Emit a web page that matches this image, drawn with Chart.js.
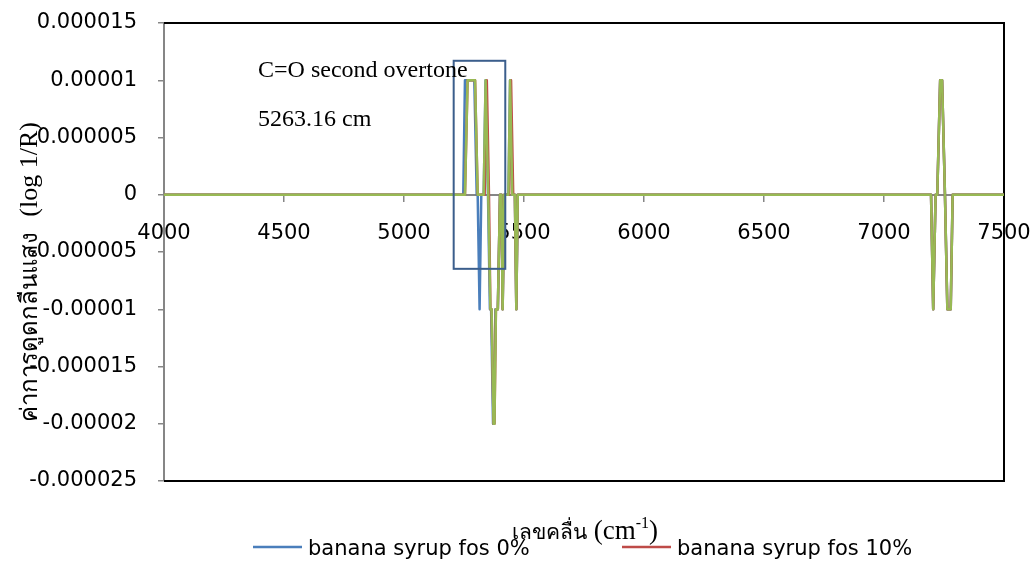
<!DOCTYPE html>
<html><head><meta charset="utf-8">
<script src="https://cdn.jsdelivr.net/npm/chart.js@4/dist/chart.umd.min.js"></script>
<style>html,body{margin:0;padding:0;background:#fff}#wrap{width:1036px;height:561px;position:relative}</style>
</head><body><div id="wrap"><canvas id="c" width="1036" height="561"></canvas></div>
<script>
// ---- data ----
const seriesNames = ['banana syrup fos 0%', 'banana syrup fos 10%', 'banana syrup fos 20%'];

const fos0X = [4000, 5247, 5254, 5293, 5303, 5307, 5315, 5322, 5332, 5340, 5350, 5358, 5363, 5371, 5375, 5381, 5391, 5400, 5406, 5411, 5418, 5435, 5442, 5451, 5462, 5468, 5474, 7196, 7205, 7215, 7222, 7234, 7242, 7254, 7264, 7278, 7286, 7500];
const fos0Y = [0, 0, 0.00001, 0.00001, 0, 0, -0.00001, 0, 0, 0.00001, 0, -0.00001, -0.00001, -0.00002, -0.00002, -0.00001, -0.00001, 0, 0, -0.00001, 0, 0, 0.00001, 0, 0, -0.00001, 0, 0, -0.00001, 0, 0, 0.00001, 0.00001, 0, -0.00001, -0.00001, 0, 0];

const fos10X = [4000, 5254, 5265, 5296, 5307, 5336, 5345, 5354, 5360, 5365, 5373, 5377, 5383, 5391, 5400, 5406, 5411, 5418, 5438, 5446, 5455, 5462, 5468, 5474, 7196, 7205, 7215, 7222, 7234, 7242, 7254, 7264, 7278, 7286, 7500];
const fos10Y = [0, 0, 0.00001, 0.00001, 0, 0, 0.00001, 0, -0.00001, -0.00001, -0.00002, -0.00002, -0.00001, -0.00001, 0, 0, -0.00001, 0, 0, 0.00001, 0, 0, -0.00001, 0, 0, -0.00001, 0, 0, 0.00001, 0.00001, 0, -0.00001, -0.00001, 0, 0];

const fos20X = [4000, 5254, 5265, 5296, 5307, 5332, 5340, 5351, 5360, 5365, 5373, 5377, 5383, 5391, 5400, 5406, 5411, 5418, 5435, 5442, 5451, 5462, 5468, 5474, 7196, 7205, 7215, 7222, 7234, 7242, 7254, 7264, 7278, 7286, 7500];
const fos20Y = [0, 0, 0.00001, 0.00001, 0, 0, 0.00001, 0, -0.00001, -0.00001, -0.00002, -0.00002, -0.00001, -0.00001, 0, 0, -0.00001, 0, 0, 0.00001, 0, 0, -0.00001, 0, 0, -0.00001, 0, 0, 0.00001, 0.00001, 0, -0.00001, -0.00001, 0, 0];

const xTickValues = [4000, 4500, 5000, 5500, 6000, 6500, 7000, 7500];
const xTickLabels = ['4000', '4500', '5000', '5500', '6000', '6500', '7000', '7500'];
const yTickValues = [-0.000025, -0.00002, -0.000015, -0.00001, -0.000005, 0, 0.000005, 0.00001, 0.000015];
const yTickLabels = ['-0.000025', '-0.00002', '-0.000015', '-0.00001', '-0.000005', '0', '0.000005', '0.00001', '0.000015'];

const xAxisTitle = ['เลขคลื่น ', '(cm', '-1', ')'];
const yAxisTitle = ['ค่าการดูดกลืนแสง  ', '(log 1/R)'];
const noteLines = ['C=O second overtone', '5263.16 cm'];
const noteX = [4392, 4392];
const noteY = [0.0000103, 0.0000060];
const boxX = [5207, 5422];
const boxY = [-0.00000647, 0.0000117];

// ---- styling ----
const colors = ['#4a7ebb', '#be4b48', '#98b954'];
const SANS = "'DejaVu Sans', 'Noto Sans', sans-serif";
const SERIF = "'Liberation Serif', 'DejaVu Serif', serif";

function pts(xs, ys) { return xs.map((x, i) => ({ x: x, y: ys[i] })); }

const datasets = [
  { label: seriesNames[0], data: pts(fos0X, fos0Y), borderColor: colors[0], order: 3 },
  { label: seriesNames[1], data: pts(fos10X, fos10Y), borderColor: colors[1], order: 2 },
  { label: seriesNames[2], data: pts(fos20X, fos20Y), borderColor: colors[2], order: 1 }
].map(d => Object.assign(d, { borderWidth: 2.5, pointRadius: 0, tension: 0, fill: false, borderJoinStyle: 'round' }));

function drawParts(ctx, parts, cx, baseline) {
  let total = 0;
  parts.forEach(p => { ctx.font = p.font; p.w = ctx.measureText(p.text).width; total += p.w; });
  let x = cx - total / 2;
  ctx.textAlign = 'left'; ctx.textBaseline = 'alphabetic'; ctx.fillStyle = '#000';
  parts.forEach(p => { ctx.font = p.font; ctx.fillText(p.text, x, baseline + (p.dy || 0)); x += p.w; });
}

const extras = {
  id: 'extras',
  beforeDatasetsDraw(chart) {
    const { ctx, chartArea: a } = chart;
    ctx.save();
    ctx.strokeStyle = '#000'; ctx.lineWidth = 2;
    ctx.beginPath();
    ctx.moveTo(a.left, a.top); ctx.lineTo(a.right, a.top); ctx.lineTo(a.right, a.bottom); ctx.lineTo(a.left, a.bottom);
    ctx.stroke();
    ctx.restore();
  },
  afterDatasetsDraw(chart) {
    const { ctx } = chart;
    const xs = chart.scales.x, ys = chart.scales.y;
    ctx.save();
    // annotation box
    const x1 = xs.getPixelForValue(boxX[0]), x2 = xs.getPixelForValue(boxX[1]);
    const y1 = ys.getPixelForValue(boxY[1]), y2 = ys.getPixelForValue(boxY[0]);
    ctx.strokeStyle = '#3b5e8c'; ctx.lineWidth = 2;
    ctx.strokeRect(x1, y1, x2 - x1, y2 - y1);
    // notes
    ctx.fillStyle = '#000'; ctx.font = '24px ' + SERIF; ctx.textAlign = 'left'; ctx.textBaseline = 'alphabetic';
    noteLines.forEach((t, i) => ctx.fillText(t, xs.getPixelForValue(noteX[i]), ys.getPixelForValue(noteY[i])));
    // x axis title
    drawParts(ctx, [
      { text: xAxisTitle[0], font: '21px ' + SANS },
      { text: xAxisTitle[1], font: '27px ' + SERIF },
      { text: xAxisTitle[2], font: '16px ' + SERIF, dy: -11 },
      { text: xAxisTitle[3], font: '27px ' + SERIF }
    ], 585, 539);
    // y axis title (rotated)
    ctx.save();
    ctx.translate(37, 272);
    ctx.rotate(-Math.PI / 2);
    drawParts(ctx, [
      { text: yAxisTitle[0], font: '24px ' + SANS },
      { text: yAxisTitle[1], font: '26px ' + SERIF }
    ], 0, 0);
    ctx.restore();
    // legend (first two entries visible; third wraps off the picture)
    const leg = [{ x: 253, i: 0 }, { x: 622, i: 1 }];
    leg.forEach(l => {
      ctx.strokeStyle = colors[l.i]; ctx.lineWidth = 2.5;
      ctx.beginPath(); ctx.moveTo(l.x, 547); ctx.lineTo(l.x + 49, 547); ctx.stroke();
      ctx.fillStyle = '#000'; ctx.font = '21px ' + SANS; ctx.textAlign = 'left'; ctx.textBaseline = 'alphabetic';
      ctx.fillText(seriesNames[l.i], l.x + 55, 555);
    });
    ctx.restore();
  }
};

new Chart(document.getElementById('c'), {
  type: 'line',
  data: { datasets: datasets },
  plugins: [extras],
  options: {
    responsive: false,
    animation: false,
    devicePixelRatio: 1,
    layout: { autoPadding: false, padding: { left: 0, top: 23, right: 32, bottom: 80 } },
    plugins: { legend: { display: false }, tooltip: { enabled: false }, title: { display: false } },
    scales: {
      x: {
        type: 'linear', min: 4000, max: 7500,
        position: { y: 0 },
        afterBuildTicks: s => { s.ticks = xTickValues.map(v => ({ value: v })); },
        afterFit: s => { s.paddingLeft = 0; s.paddingRight = 0; },
        ticks: {
          autoSkip: false, maxRotation: 0, padding: 20, color: '#000',
          font: { family: SANS, size: 21 },
          callback: (v, i) => xTickLabels[i]
        },
        grid: { drawOnChartArea: false, tickLength: 6, color: '#868686', lineWidth: 1.5 },
        border: { color: '#868686', width: 2 }
      },
      y: {
        type: 'linear', min: -0.000025, max: 0.000015,
        afterBuildTicks: s => { s.ticks = yTickValues.map(v => ({ value: v })); },
        afterFit: s => { s.width = 164; s.paddingTop = 0; s.paddingBottom = 0; },
        ticks: {
          padding: 21, color: '#000',
          font: { family: SANS, size: 21 },
          callback: (v, i) => yTickLabels[i]
        },
        grid: { drawOnChartArea: false, tickLength: 6, color: '#868686', lineWidth: 1.5 },
        border: { color: '#868686', width: 2 }
      }
    }
  }
});
</script>
</body></html>
